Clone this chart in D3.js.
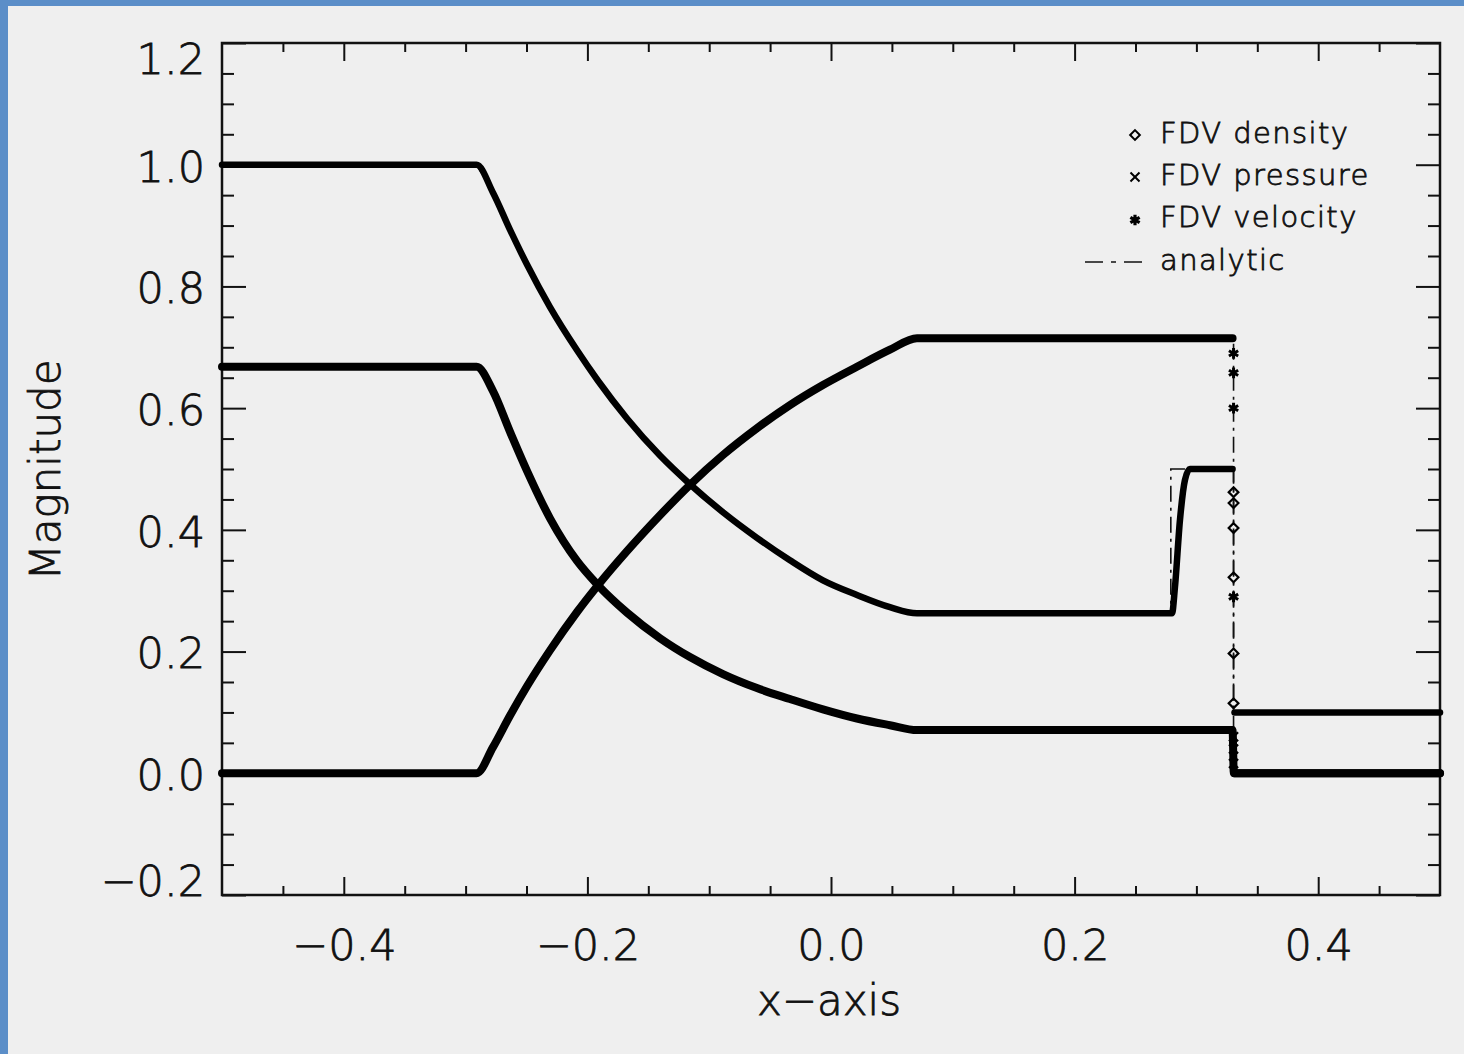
<!DOCTYPE html>
<html>
<head>
<meta charset="UTF-8">
<style>
  body { margin: 0; background: #5b8ec8; }
  #chart { display: block; }
  text { font-family: "DejaVu Sans", sans-serif; font-weight: 200; fill: #111; stroke: #111; stroke-width: 0.8px; }
</style>
</head>
<body>
<svg id="chart" width="1464" height="1054"></svg>
<script src="https://d3js.org/d3.v7.min.js"></script>
<script>
// ---- values ----
// x positions sampled through the rarefaction fan
const rareX   = [-0.291, -0.2775, -0.2635, -0.2496, -0.2307, -0.2085, -0.1913, -0.1675, -0.1404, -0.1158, -0.0887, -0.0608, -0.0337, -0.0066, 0.0213, 0.0484, 0.0706];
const rhoRare  = [1.000, 0.954, 0.893, 0.836, 0.766, 0.695, 0.645, 0.583, 0.522, 0.475, 0.429, 0.387, 0.350, 0.317, 0.293, 0.273, 0.263];
const presRare = [0.668, 0.628, 0.561, 0.497, 0.419, 0.349, 0.309, 0.264, 0.222, 0.191, 0.163, 0.140, 0.122, 0.105, 0.090, 0.079, 0.071];
const velRare  = [0.000, 0.043, 0.095, 0.143, 0.202, 0.265, 0.309, 0.365, 0.424, 0.474, 0.523, 0.567, 0.605, 0.638, 0.668, 0.696, 0.715];

// smeared contact in the FDV density
const contactX   = [0.2800, 0.2824, 0.2865, 0.2906, 0.2947];
const rhoContact = [0.263, 0.306, 0.416, 0.482, 0.500];
const contactExact = 0.279;

const shockX = 0.3305;
const rhoLeft = 1.0, rhoShocked = 0.5, rhoRight = 0.1;
const presLeft = 0.668, presRight = 0.0;
const velLeft = 0.0, velRight = 0.0;

// scattered FDV points inside the shock
const rhoShockPts  = [0.462, 0.444, 0.403, 0.322, 0.197, 0.115];
const velShockPts  = [0.690, 0.658, 0.600, 0.290];
const presShockPts = [0.060, 0.040, 0.016];

const xTicks = [-0.4, -0.2, 0.0, 0.2, 0.4];
const yTicks = [-0.2, 0.0, 0.2, 0.4, 0.6, 0.8, 1.0, 1.2];
const legendLabels = ["FDV density", "FDV pressure", "FDV velocity", "analytic"];

// ---- drawing ----
const W = 1464, H = 1054;
const svg = d3.select("#chart");
svg.append("rect").attr("width", W).attr("height", H).attr("fill", "#5b8ec8");
svg.append("rect").attr("x", 8).attr("y", 6).attr("width", W - 8).attr("height", H - 6).attr("fill", "#efefef");

const x = d3.scaleLinear().domain([-0.5, 0.5]).range([222, 1440]);
const y = d3.scaleLinear().domain([-0.2, 1.2]).range([895, 43]);

const minorX = d3.range(-0.45, 0.46, 0.05).map(v => +v.toFixed(2)).filter(v => !xTicks.includes(v));
const minorY = d3.range(-0.15, 1.16, 0.05).map(v => +v.toFixed(2)).filter(v => !yTicks.includes(v));

const fmt = d => d3.format(".1f")(d).replace("-", "\u2212");

function styleAxis(g) {
  g.select(".domain").remove();
  g.selectAll(".tick line").attr("stroke", "#111").attr("stroke-width", 2);
}

// bottom
svg.append("g").attr("transform", "translate(0,895)")
  .call(d3.axisBottom(x).tickValues(xTicks).tickSize(-18).tickPadding(34).tickFormat(fmt))
  .call(styleAxis)
  .selectAll("text").attr("font-size", 43).attr("font-family", null).attr("fill", "#111");
svg.append("g").attr("transform", "translate(0,895)")
  .call(d3.axisBottom(x).tickValues(minorX).tickSize(-9).tickFormat(""))
  .call(styleAxis);
// top
svg.append("g").attr("transform", "translate(0,43)")
  .call(d3.axisTop(x).tickValues(xTicks).tickSize(-18).tickFormat(""))
  .call(styleAxis);
svg.append("g").attr("transform", "translate(0,43)")
  .call(d3.axisTop(x).tickValues(minorX).tickSize(-9).tickFormat(""))
  .call(styleAxis);
// left
const yAxisG = svg.append("g").attr("transform", "translate(222,0)")
  .call(d3.axisLeft(y).tickValues(yTicks).tickSize(-24).tickPadding(17).tickFormat(fmt))
  .call(styleAxis);
yAxisG.selectAll("text").attr("font-size", 43).attr("font-family", null).attr("fill", "#111")
  .attr("dy", d => d === 1.2 ? "0.72em" : d === -0.2 ? "0.02em" : "0.38em");
svg.append("g").attr("transform", "translate(222,0)")
  .call(d3.axisLeft(y).tickValues(minorY).tickSize(-12).tickFormat(""))
  .call(styleAxis);
// right
svg.append("g").attr("transform", "translate(1440,0)")
  .call(d3.axisRight(y).tickValues(yTicks).tickSize(-24).tickFormat(""))
  .call(styleAxis);
svg.append("g").attr("transform", "translate(1440,0)")
  .call(d3.axisRight(y).tickValues(minorY).tickSize(-12).tickFormat(""))
  .call(styleAxis);

// frame
svg.append("rect").attr("x", 222).attr("y", 43).attr("width", 1218).attr("height", 852)
  .attr("fill", "none").attr("stroke", "#111").attr("stroke-width", 2.5);

// axis titles
svg.append("text").attr("x", 829).attr("y", 1015).attr("text-anchor", "middle")
  .attr("font-size", 42).text("x\u2212axis");
svg.append("text").attr("transform", "translate(60,470) rotate(-90)").attr("text-anchor", "middle")
  .attr("font-size", 42).text("Magnitude");

// series
const pts = (xs, ys) => xs.map((v, i) => [v, ys[i]]);

const analytic = [
  [[-0.5, rhoLeft], ...pts(rareX, rhoRare), [contactExact, rhoContact[0]], [contactExact, rhoShocked],
   [shockX, rhoShocked], [shockX, rhoRight], [0.5, rhoRight]],
  [[-0.5, presLeft], ...pts(rareX, presRare), [shockX, presRare[presRare.length - 1]], [shockX, presRight], [0.5, presRight]],
  [[-0.5, velLeft], ...pts(rareX, velRare), [shockX, velRare[velRare.length - 1]], [shockX, velRight], [0.5, velRight]]
];

const fdv = [
  { w: 6.5, d: [[-0.5, rhoLeft], ...pts(rareX, rhoRare), ...pts(contactX, rhoContact), [shockX - 0.0008, rhoShocked]] },
  { w: 6.5, d: [[shockX + 0.0008, rhoRight], [0.5, rhoRight]] },
  { w: 8, d: [[-0.5, presLeft], ...pts(rareX, presRare), [shockX - 0.0008, presRare[presRare.length - 1]],
              [shockX + 0.0002, presRight], [0.5, presRight]] },
  { w: 8, d: [[-0.5, velLeft], ...pts(rareX, velRare), [shockX - 0.0008, velRare[velRare.length - 1]]] },
  { w: 8, d: [[shockX + 0.0008, velRight], [0.5, velRight]] }
];

const lineLin = d3.line().x(d => x(d[0])).y(d => y(d[1]));
const lineSmooth = d3.line().x(d => x(d[0])).y(d => y(d[1])).curve(d3.curveMonotoneX);

svg.append("g").selectAll("path").data(analytic).join("path")
  .attr("d", lineLin).attr("fill", "none").attr("stroke", "#111")
  .attr("stroke-width", 1.6).attr("stroke-dasharray", "16,6,3,6");

svg.append("g").selectAll("path").data(fdv).join("path")
  .attr("d", s => lineSmooth(s.d)).attr("fill", "none").attr("stroke", "#000")
  .attr("stroke-width", s => s.w).attr("stroke-linejoin", "round").attr("stroke-linecap", "round");

// markers in the shock
const diamond = d3.symbol().type(d3.symbolDiamond2).size(60);
const times = d3.symbol().type(d3.symbolTimes).size(55);
const aster = d3.symbol().type(d3.symbolAsterisk).size(80);
const mk = svg.append("g").attr("fill", "none").attr("stroke", "#000").attr("stroke-width", 2.2);
mk.selectAll(".rho").data(rhoShockPts).join("path")
  .attr("transform", d => `translate(${x(shockX)},${y(d)})`).attr("d", diamond);
mk.selectAll(".vel").data(velShockPts).join("path")
  .attr("transform", d => `translate(${x(shockX)},${y(d)})`).attr("d", aster).attr("stroke-width", 3);
mk.selectAll(".pres").data(presShockPts).join("path")
  .attr("transform", d => `translate(${x(shockX)},${y(d)})`).attr("d", times);

// legend
const lg = svg.append("g").attr("transform", "translate(1160,0)");
const rowY = [143, 185, 227, 270];
lg.selectAll("text").data(legendLabels).join("text")
  .attr("x", 0).attr("y", (d, i) => rowY[i]).attr("font-size", 29).attr("letter-spacing", 1.4).text(d => d);
const symY = [135, 177, 220];
[diamond, times, aster].forEach((s, i) => {
  lg.append("path").attr("transform", `translate(-25,${symY[i]})`).attr("d", s)
    .attr("fill", "none").attr("stroke", "#000").attr("stroke-width", i === 2 ? 3.2 : 2);
});
lg.append("line").attr("x1", -75).attr("x2", -15).attr("y1", 262).attr("y2", 262)
  .attr("stroke", "#111").attr("stroke-width", 1.6).attr("stroke-dasharray", "18,8,5,8");
</script>
</body>
</html>
